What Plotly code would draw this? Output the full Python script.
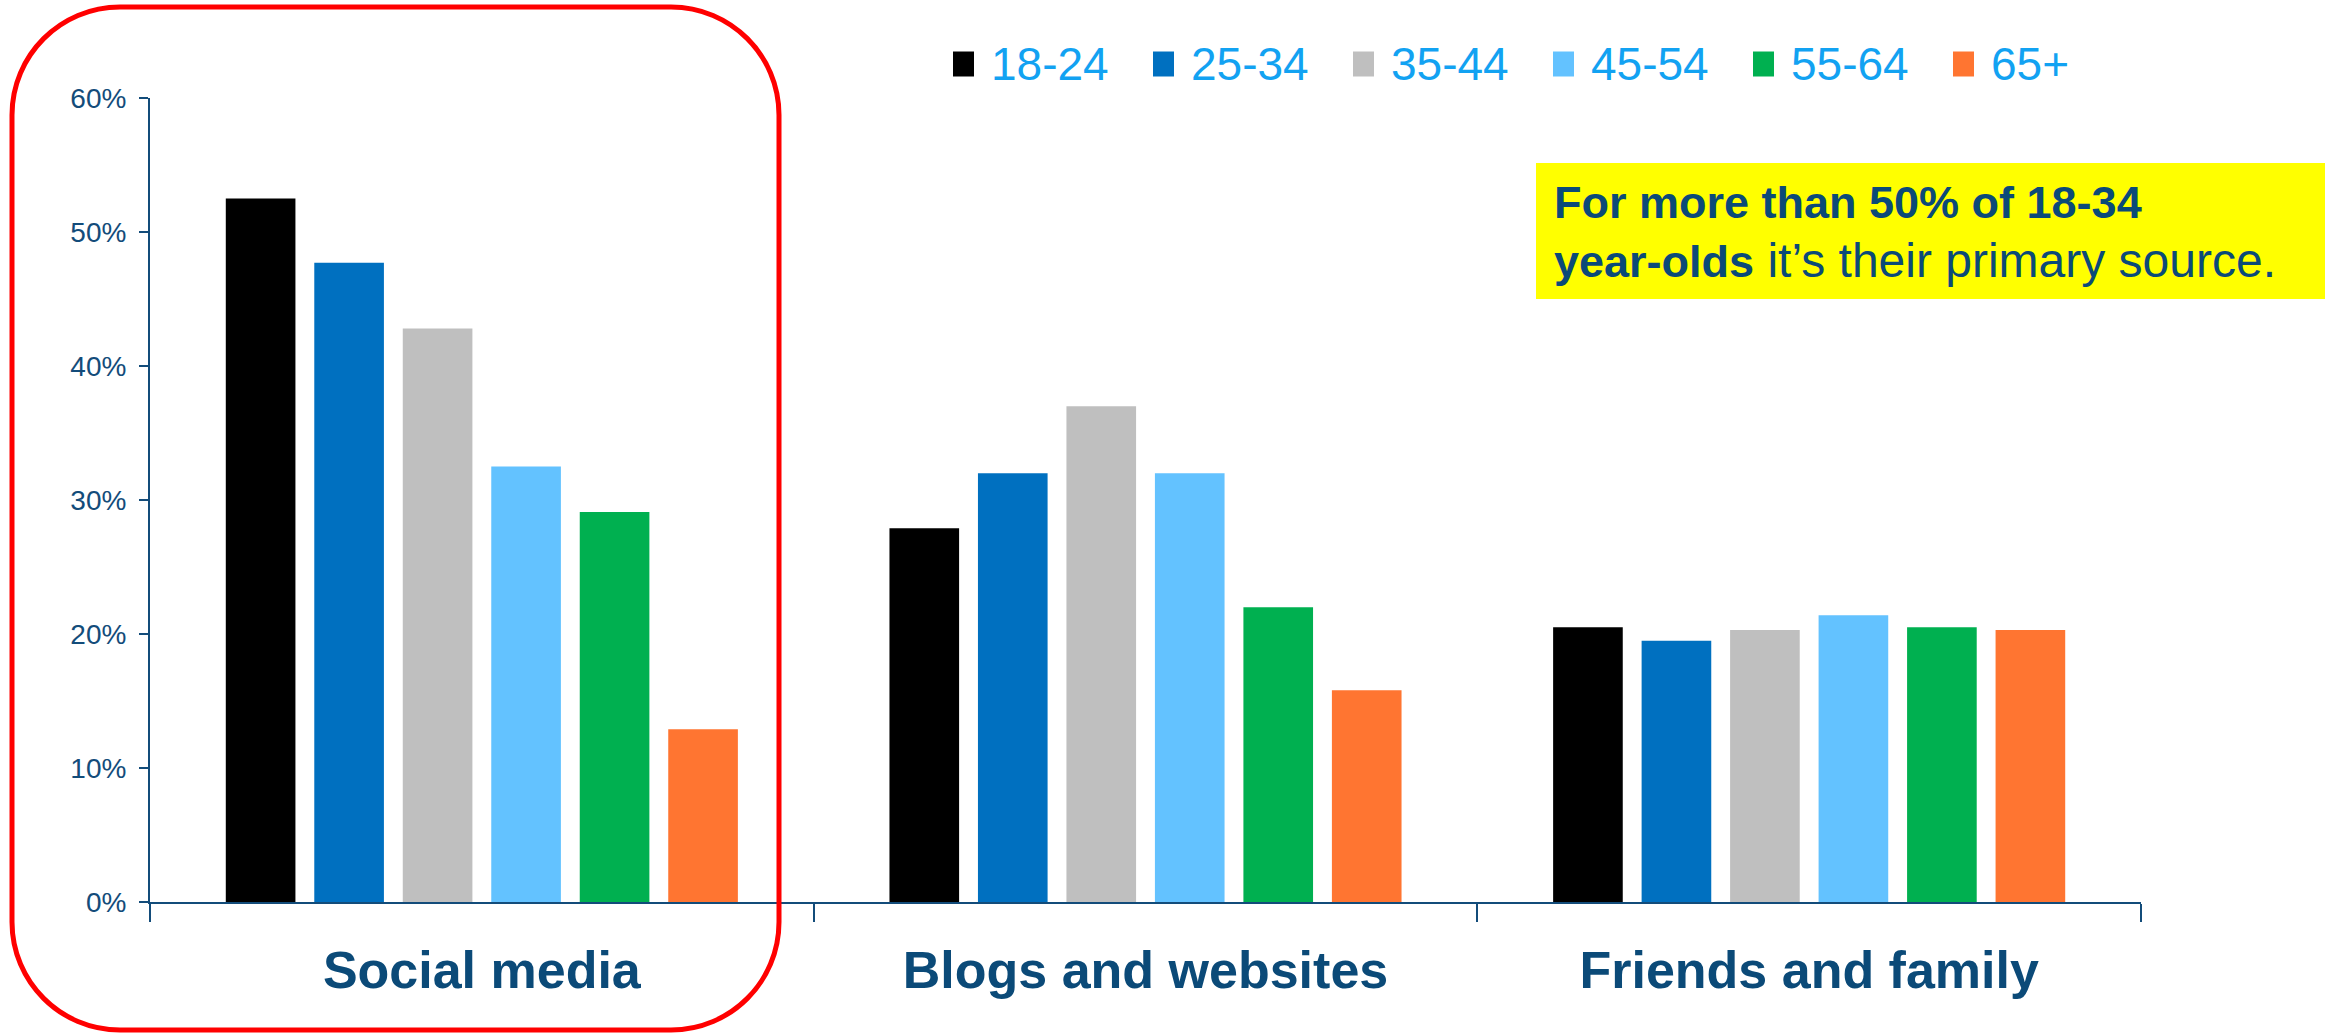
import plotly.graph_objects as go

# ---- data ----
categories = ["Social media", "Blogs and websites", "Friends and family"]
age_groups = ["18-24", "25-34", "35-44", "45-54", "55-64", "65+"]
values_18_24 = [52.5, 27.9, 20.5]
values_25_34 = [47.7, 32.0, 19.5]
values_35_44 = [42.8, 37.0, 20.3]
values_45_54 = [32.5, 32.0, 21.4]
values_55_64 = [29.1, 22.0, 20.5]
values_65_plus = [12.9, 15.8, 20.3]
series_values = [values_18_24, values_25_34, values_35_44,
                 values_45_54, values_55_64, values_65_plus]
colors = ["#000000", "#0070C0", "#BFBFBF", "#63C2FF", "#00B050", "#FF7531"]
y_tick_values = [0, 10, 20, 30, 40, 50, 60]
y_tick_labels = ["0%", "10%", "20%", "30%", "40%", "50%", "60%"]
callout_text = ("<b>For more than 50% of 18-34<br>year-olds</b>"
                "<span style=\"font-size:48px\"> it\u2019s their primary source.</span>")

# ---- page geometry ----
W, H = 2331, 1034
ML, MR, MT, MB = 150, 190, 98, 132
PW, PH = W - ML - MR, H - MT - MB

AXIS = "#134C7A"
NAVY = "#0B4A78"
LEGEND_TXT = "#12A2F2"
FONT = "Liberation Sans, Arial, sans-serif"


def px_x(px):
    """Horizontal page pixel -> paper coordinate."""
    return (px - ML) / PW


def px_y(py):
    """Vertical page pixel (from top) -> paper coordinate."""
    return (H - MB - py) / PH


fig = go.Figure()
for name, vals, col in zip(age_groups, series_values, colors):
    fig.add_trace(go.Bar(
        x=categories, y=vals, name=name,
        marker=dict(color=col, line=dict(width=0)),
        showlegend=False,
        hovertemplate="%{x}<br>" + name + ": %{y}%<extra></extra>",
    ))

shapes = []
annotations = []

# legend row: coloured keys with age-group labels
key_left0, key_pitch, key_w, key_h, key_cy = 953, 200, 21, 25, 64
for i, (name, col) in enumerate(zip(age_groups, colors)):
    left = key_left0 + i * key_pitch
    shapes.append(dict(
        type="rect", xref="paper", yref="paper",
        x0=px_x(left), x1=px_x(left + key_w),
        y0=px_y(key_cy + key_h / 2), y1=px_y(key_cy - key_h / 2),
        fillcolor=col, line=dict(width=0), layer="above",
    ))
    annotations.append(dict(
        text=name, xref="paper", yref="paper",
        x=px_x(left + 36), y=px_y(key_cy), xanchor="left", yanchor="middle",
        showarrow=False, font=dict(family=FONT, size=46, color=LEGEND_TXT),
    ))

# yellow callout box
shapes.append(dict(
    type="rect", xref="paper", yref="paper",
    x0=px_x(1536), x1=px_x(2325), y0=px_y(299), y1=px_y(163),
    fillcolor="#FFFF00", line=dict(width=0), layer="above",
))
annotations.append(dict(
    text=callout_text, xref="paper", yref="paper",
    x=px_x(1553), y=px_y(232), xanchor="left", yanchor="middle",
    align="left", showarrow=False, borderpad=0,
    font=dict(family=FONT, size=45, color=NAVY),
))

# red rounded frame around the social media group
x0, x1, y0, y1, r = 12, 779, 7, 1030, 108
k = 0.5523 * r
frame = (
    f"M {px_x(x0 + r)},{px_y(y0)} L {px_x(x1 - r)},{px_y(y0)} "
    f"C {px_x(x1 - r + k)},{px_y(y0)} {px_x(x1)},{px_y(y0 + r - k)} {px_x(x1)},{px_y(y0 + r)} "
    f"L {px_x(x1)},{px_y(y1 - r)} "
    f"C {px_x(x1)},{px_y(y1 - r + k)} {px_x(x1 - r + k)},{px_y(y1)} {px_x(x1 - r)},{px_y(y1)} "
    f"L {px_x(x0 + r)},{px_y(y1)} "
    f"C {px_x(x0 + r - k)},{px_y(y1)} {px_x(x0)},{px_y(y1 - r + k)} {px_x(x0)},{px_y(y1 - r)} "
    f"L {px_x(x0)},{px_y(y0 + r)} "
    f"C {px_x(x0)},{px_y(y0 + r - k)} {px_x(x0 + r - k)},{px_y(y0)} {px_x(x0 + r)},{px_y(y0)} Z"
)
shapes.append(dict(type="path", xref="paper", yref="paper", path=frame,
                   line=dict(color="#FF0000", width=5), layer="above"))

fig.update_layout(
    width=W, height=H,
    margin=dict(l=ML, r=MR, t=MT, b=MB, pad=0),
    paper_bgcolor="white", plot_bgcolor="white",
    barmode="group", bargap=0.2, bargroupgap=0.213,
    showlegend=False,
    shapes=shapes, annotations=annotations,
    xaxis=dict(
        type="category", range=[-0.5, 2.5],
        showline=True, linecolor=AXIS, linewidth=2,
        ticks="outside", tickson="boundaries", ticklen=18, tickwidth=2,
        tickcolor=AXIS, showgrid=False, zeroline=False,
        tickfont=dict(family=FONT, size=52, color=NAVY, weight="bold"),
        ticklabelstandoff=22,
    ),
    yaxis=dict(
        range=[0, 60], tickvals=y_tick_values, ticktext=y_tick_labels,
        showline=True, linecolor=AXIS, linewidth=2,
        ticks="outside", ticklen=9, tickwidth=2, tickcolor=AXIS,
        showgrid=False, zeroline=False,
        tickfont=dict(family=FONT, size=28, color=AXIS),
        ticklabelstandoff=7,
    ),
)

fig.write_html("out.html")
